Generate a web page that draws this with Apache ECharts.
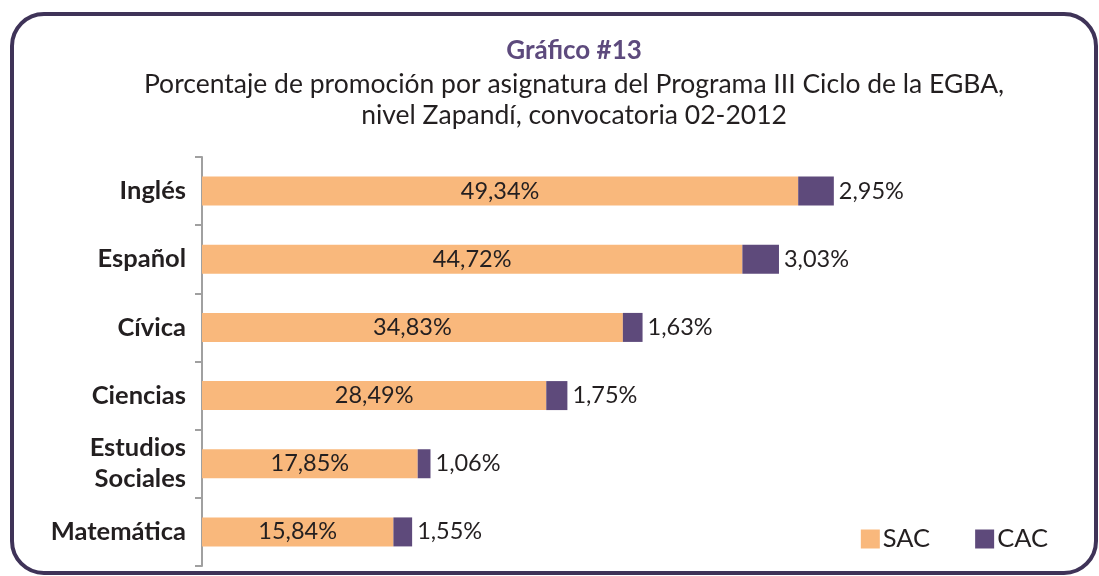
<!DOCTYPE html>
<html>
<head>
<meta charset="utf-8">
<script src="https://cdn.jsdelivr.net/npm/echarts@6/dist/echarts.min.js"></script>
<style>
  html, body { margin: 0; padding: 0; background: #fff; }
  #chart { width: 1099px; height: 576px; }
</style>
</head>
<body>
<div id="chart"></div>
<script>
var categories = ['Inglés', 'Español', 'Cívica', 'Ciencias', 'Estudios\nSociales', 'Matemática'];
var sac = [49.34, 44.72, 34.83, 28.49, 17.85, 15.84];
var cac = [2.95, 3.03, 1.63, 1.75, 1.06, 1.55];

var chart = echarts.init(document.getElementById('chart'));

function fmt(v) {
  return v.toFixed(2).replace('.', ',') + '%';
}

var option = {
  animation: false,
  textStyle: { fontFamily: 'Lato' },
  graphic: [{
    type: 'rect',
    shape: { x: 12, y: 14, width: 1084, height: 559, r: 32 },
    style: { fill: 'none', stroke: '#3f3358', lineWidth: 4 },
    z: 100
  }],
  title: {
    text: 'Gráfico #13',
    subtext: 'Porcentaje de promoción por asignatura del Programa III Ciclo de la EGBA,\nnivel Zapandí, convocatoria 02-2012',
    left: 569,
    textAlign: 'center',
    top: 33,
    itemGap: 5,
    textStyle: { fontFamily: 'Lato', fontSize: 26, fontWeight: 'bold', color: '#5d4a7d' },
    subtextStyle: { fontFamily: 'Lato', fontSize: 26.5, color: '#231f20', lineHeight: 31 }
  },
  legend: {
    right: 46,
    top: 521,
    itemWidth: 19,
    itemHeight: 19,
    itemGap: 45,
    icon: 'rect',
    data: ['SAC', 'CAC'],
    textStyle: { fontFamily: 'Lato', fontSize: 25.5, color: '#231f20', padding: [0, 0, 0, -2] }
  },
  grid: { left: 202, top: 157, width: 725, height: 409 },
  xAxis: {
    type: 'value',
    min: 0,
    max: 60,
    show: false
  },
  yAxis: {
    type: 'category',
    inverse: true,
    data: categories,
    axisLine: { show: true, lineStyle: { color: '#a0a0a0', width: 2 } },
    axisTick: { show: true, length: 7, lineStyle: { color: '#a0a0a0', width: 2 } },
    axisLabel: {
      margin: 16,
      fontFamily: 'Lato',
      fontSize: 25.5,
      fontWeight: 'bold',
      color: '#231f20',
      lineHeight: 31
    }
  },
  series: [
    {
      name: 'SAC',
      type: 'bar',
      stack: 'total',
      barWidth: 29,
      itemStyle: { color: '#f9b87c' },
      label: {
        show: true,
        position: 'inside',
        fontFamily: 'Lato',
        fontSize: 23.5,
        color: '#231f20',
        formatter: function (p) { return fmt(p.value); }
      },
      data: sac
    },
    {
      name: 'CAC',
      type: 'bar',
      stack: 'total',
      barWidth: 29,
      itemStyle: { color: '#5e4a7b' },
      label: {
        show: true,
        position: 'right',
        distance: 5,
        fontFamily: 'Lato',
        fontSize: 23.5,
        color: '#231f20',
        formatter: function (p) { return fmt(p.value); }
      },
      data: cac
    }
  ]
};

chart.setOption(option);
</script>
</body>
</html>
